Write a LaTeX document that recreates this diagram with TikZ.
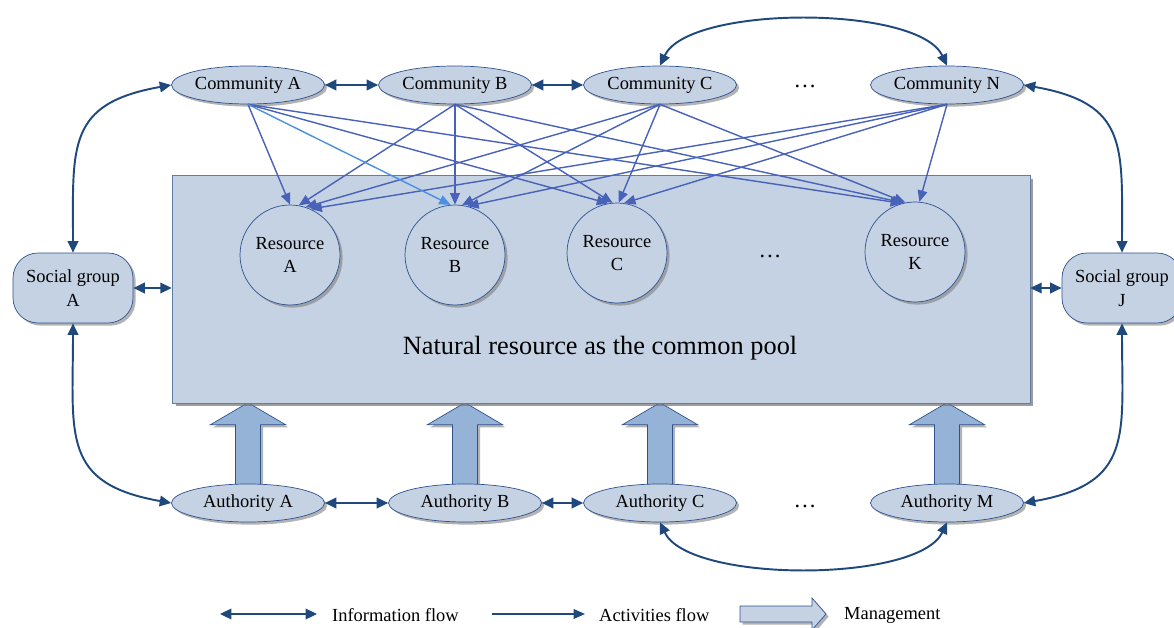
\documentclass[tikz,border=0pt]{standalone}
\usepackage{fontspec}
\setmainfont{Liberation Serif}
\definecolor{paleblue}{RGB}{197,210,227}
\definecolor{darkblue}{RGB}{31,73,125}
\definecolor{lineblue}{RGB}{47,82,143}
\definecolor{actblue}{RGB}{72,98,185}
\definecolor{lightact}{RGB}{74,144,226}
\definecolor{mgmtblue}{RGB}{149,179,215}
\definecolor{boxedge}{RGB}{96,125,164}
\usetikzlibrary{arrows.meta, shapes.geometric, shadows, backgrounds}

\begin{document}
\begin{tikzpicture}[x=0.02cm, y=-0.02cm,
    font=\fontsize{10.5}{13.5}\selectfont,
    castshadow/.style={drop shadow={shadow xshift=1.5pt, shadow yshift=-1.5pt, fill=black!50, opacity=0.6}},
    actor/.style={ellipse, draw=lineblue, fill=paleblue, castshadow,
      minimum width=3.06cm, minimum height=0.76cm, inner sep=0pt},
    resource/.style={circle, draw=lineblue, fill=paleblue, castshadow,
      minimum size=2cm, inner sep=0pt, align=center},
    group/.style={draw=lineblue, fill=paleblue, castshadow, rounded corners=0.5cm,
      minimum width=2.4cm, minimum height=1.4cm, align=center},
    poolbox/.style={draw=boxedge, fill=paleblue, minimum width=17.16cm, minimum height=4.56cm,
      drop shadow={shadow xshift=2pt, shadow yshift=-2pt, fill=black!55, opacity=0.7}},
    info/.style={{Triangle[length=6.5pt,width=6pt]}-{Triangle[length=6.5pt,width=6pt]}, darkblue, line width=1.1pt},
    act/.style={-{Triangle[length=6.5pt,width=5.5pt]}, actblue, line width=0.8pt},
    mgmt/.style={draw=lineblue, fill=mgmtblue, castshadow},
    dots/.style={font=\fontsize{13}{15}\selectfont},
  ]
  \clip (0,0) rectangle (1174,628);

  % common pool
  \node[poolbox] (pool) at (601,289) {};
  \node[font=\fontsize{15}{18}\selectfont] (poollabel) at (600,348) {Natural resource as the common pool};
  \node[resource] (RA) at (290,255) {Resource\\A};
  \node[resource] (RB) at (455,255) {Resource\\B};
  \node[resource] (RC) at (617,253) {Resource\\C};
  \node[dots] (rdots) at (770,256) {\ldots};
  \node[resource] (RK) at (915,252) {Resource\\K};

  % communities
  \node[actor] (CA) at (248,85) {Community A};
  \node[actor] (CB) at (455,85) {Community B};
  \node[actor] (CC) at (660,85) {Community C};
  \node[dots] (cdots) at (805,86) {\ldots};
  \node[actor] (CN) at (947,85) {Community N};

  % social groups
  \node[group] (SGA) at (73,288) {Social group\\A};
  \node[group] (SGJ) at (1122,288) {Social group\\J};

  % authorities
  \node[actor] (AA) at (248,503) {Authority A};
  \node[actor] (AB) at (465,503) {Authority B};
  \node[actor] (AC) at (660,503) {Authority C};
  \node[dots] (adots) at (805,506) {\ldots};
  \node[actor] (AM) at (947,503) {Authority M};

  % management arrows
  \begin{scope}[on background layer]
    \foreach \a in {AA,AB,AC,AM}
      \draw[mgmt] (\a.north) ++(-12.5,2) -- ++(0,-61) -- ++(-25,0) -- ++(37.5,-22)
        -- ++(37.5,22) -- ++(-25,0) -- ++(0,61) -- cycle;
  \end{scope}

  % activities
  \foreach \src/\dst in {CA/RA.90, CA/RC.100, CA/RK.105,
      CB/RA.80, CB/RB.90, CB/RC.95, CB/RK.103,
      CC/RA.72, CC/RB.82, CC/RC.88, CC/RK.101,
      CN/RA.66, CN/RB.76, CN/RC.82, CN/RK.85}
    \draw[act] (\src.south) -- (\dst);
  \draw[act, lightact] (CA.south) -- (RB.95);

  % information
  \draw[info] (CA) -- (CB);
  \draw[info] (CB) -- (CC);
  \draw[info] (AA) -- (AB);
  \draw[info] (AB) -- (AC);
  \draw[info] (SGA.east) -- (SGA.east -| pool.west);
  \draw[info] (SGJ.west -| pool.east) -- (SGJ.west);
  \draw[info] (SGA.north) to[out=90, in=190, looseness=1.4] (CA.west);
  \draw[info] (SGA.south) to[out=-90, in=170, looseness=1.4] (AA.west);
  \draw[info] (SGJ.north) to[out=90, in=-10, looseness=1.4] (CN.east);
  \draw[info] (SGJ.south) to[out=-90, in=10, looseness=1.4] (AM.east);
  \draw[info] (CC.north) to[out=65, in=115, looseness=0.6] (CN.north);
  \draw[info] (AC.south) to[out=-65, in=-115, looseness=0.6] (AM.south);

  % legend
  \coordinate (inf1) at (220,614);
  \coordinate (inf2) at (317,614);
  \draw[info] (inf1) -- (inf2);
  \node[anchor=west] (inflabel) at (326,615) {Information flow};
  \coordinate (act1) at (492,614);
  \coordinate (act2) at (585,614);
  \draw[act, darkblue, line width=1.1pt] (act1) -- (act2);
  \node[anchor=west] (actlabel) at (593,615) {Activities flow};
  \coordinate (mkey) at (740,614);
  \draw[mgmt, fill=paleblue] (mkey) ++(0,-8) -- ++(72,0) -- ++(0,-8) -- ++(14,16) -- ++(-14,16)
    -- ++(0,-8) -- ++(-72,0) -- cycle;
  \node[anchor=west] (mgmtlabel) at (838,615) {Management};
\end{tikzpicture}
\end{document}
